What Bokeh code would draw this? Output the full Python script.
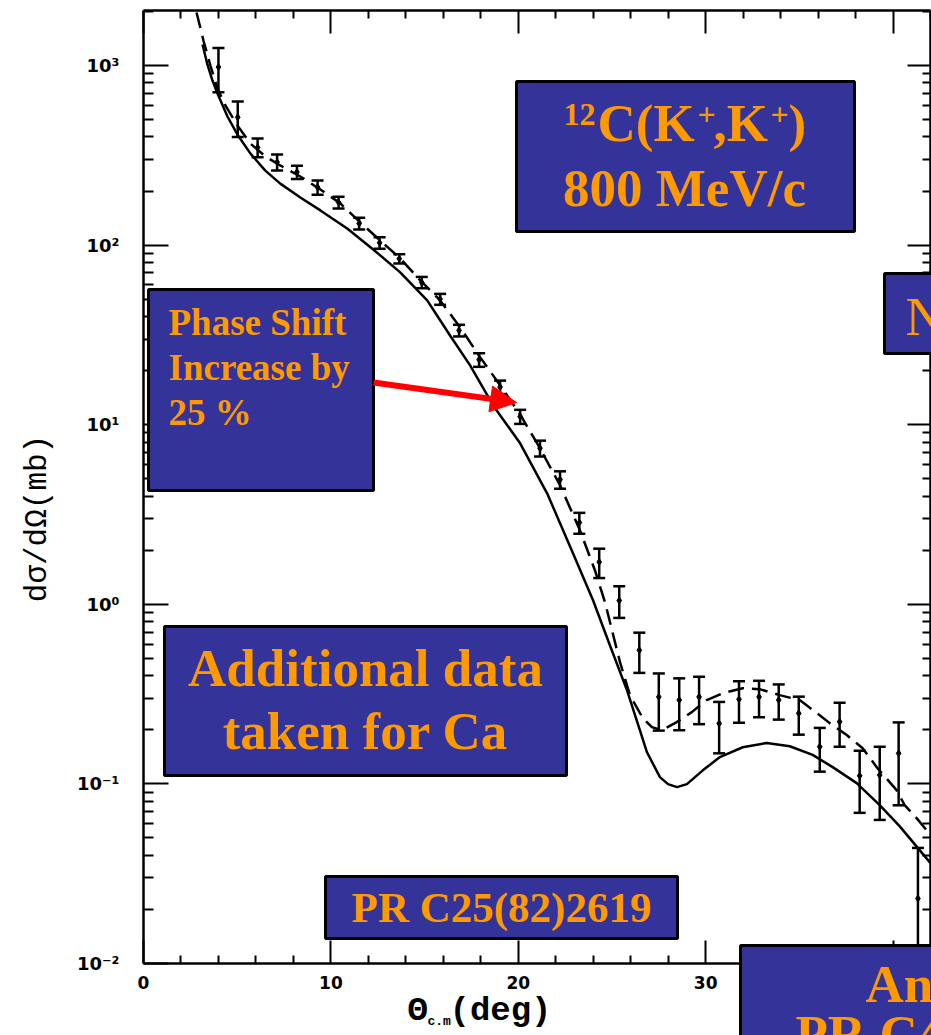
import math

from bokeh.embed import file_html
from bokeh.models import (Arrow, BoxAnnotation, ColumnDataSource, CustomJSTickFormatter,
                          CustomLabelingPolicy, FixedTicker, Label, LinearAxis, LogAxis,
                          NormalHead)
from bokeh.plotting import figure
from bokeh.resources import INLINE

# 12C(K+,K+) elastic scattering, 800 MeV/c: measured points (c.m. angle, mb)
theta_cm = [4.0, 5.03, 6.09, 7.13, 8.19, 9.29, 10.41, 11.51, 12.6, 13.65,
            14.85, 15.83, 16.84, 17.91, 19.03, 20.1, 21.16, 22.23, 23.26, 24.32,
            25.39, 26.46, 27.5, 28.59, 29.65, 30.72, 31.78, 32.85, 33.9, 34.97,
            36.09, 37.15, 38.22, 39.29, 40.3, 41.33]
dsigma = [980, 515, 350, 290, 255, 210, 173, 132, 103, 84,
          62, 50, 33.5, 23, 16.2, 11.1, 7.4, 4.95, 2.85, 1.72,
          1.05, 0.555, 0.305, 0.293, 0.305, 0.217, 0.296, 0.305, 0.293, 0.247,
          0.161, 0.222, 0.111, 0.112, 0.148, 0.023]
dsigma_err = [270, 115, 42, 30, 22, 19, 13, 10, 7.5, 5,
              4.5, 3.5, 2.5, 2.0, 1.4, 1.0, 0.75, 0.55, 0.38, 0.32,
              0.21, 0.14, 0.107, 0.094, 0.09, 0.069, 0.077, 0.07, 0.065, 0.059,
              0.044, 0.061, 0.042, 0.049, 0.072, 0.021]

# standard phase shifts (solid curve)
theta_std = [3.15, 3.41, 3.68, 3.95, 4.48, 5.01, 5.70, 6.50, 7.30, 8.37,
             9.44, 10.87, 12.26, 13.70, 15.14, 16.36, 17.43, 18.66, 20.10, 21.54,
             22.92, 23.99, 24.89, 25.80, 26.49, 26.87, 27.56, 27.99, 28.47, 29.00,
             29.85, 30.76, 31.98, 33.26, 34.49, 35.71, 36.78, 38.06, 39.29, 40.35,
             41.42, 42.0]
dsigma_std = [1309, 1013, 825, 698, 520, 413, 324, 260, 220, 184,
              156, 123.8, 94.6, 70.5, 49.2, 31.4, 21.4, 12.8, 7.88, 4.15,
              1.925, 1.054, 0.592, 0.333, 0.199, 0.150, 0.109, 0.0997, 0.096, 0.0997,
              0.119, 0.141, 0.160, 0.169, 0.162, 0.145, 0.124, 0.101, 0.0762, 0.0582,
              0.0428, 0.0362]

# phase shifts increased by 25 % (dashed curve)
theta_inc = [2.83, 3.20, 3.57, 3.95, 4.37, 5.01, 5.70, 6.50, 7.30, 8.37,
             9.44, 10.50, 11.57, 12.63, 13.70, 14.77, 15.83, 16.90, 17.97, 19.03,
             20.10, 21.16, 22.23, 23.29, 24.09, 24.63, 25.0, 25.43, 25.96, 26.65,
             27.13, 27.66, 28.46, 29.26, 30.06, 30.91, 31.98, 32.88, 33.95, 35.02,
             35.93, 36.62, 37.53, 38.38, 39.18, 40.19, 40.62, 41.26, 42.0]
dsigma_inc = [1972, 1377, 1000, 745, 599, 464, 368, 312, 277.6, 241,
              204, 170.7, 133.8, 106.2, 84.3, 63.6, 49.2, 34.8, 23.7, 16.6,
              11.4, 7.39, 4.60, 2.585, 1.548, 1.027, 0.718, 0.476, 0.312, 0.232,
              0.207, 0.199, 0.221, 0.251, 0.293, 0.320, 0.341, 0.337, 0.312, 0.293,
              0.248, 0.218, 0.187, 0.158, 0.122, 0.0923, 0.0762, 0.0645, 0.0519]

x_major = [0, 10, 20, 30, 40]
y_major = [1e-2, 1e-1, 1e0, 1e1, 1e2, 1e3]

W, H = 931, 1035
FL, FR, FT, FB = 143, 930, 10, 963          # edges of the boxed plot area on the page
X_LO, X_HI = 0.0, 42.0
Y_LO = 1e-2
Y_HI = 10 ** (3 + (65 - FT) / ((FB - 65) / 5.0))

BLUE = "#333399"
ORANGE = "#FF9900"
SERIF = "Liberation Serif"
MONO = "Liberation Mono"


def px_x(px):
    """page pixel column -> x data value"""
    return X_LO + (px - FL) * (X_HI - X_LO) / (FR - FL)


def px_y(py):
    """page pixel row -> y data value (log axis)"""
    lo, hi = math.log10(Y_LO), math.log10(Y_HI)
    return 10 ** (lo + (FB - py) * (hi - lo) / (FB - FT))


# the frame fills the whole canvas; the axes are pinned at the edges of the
# boxed area so that annotations can also spill over the axis margins
p = figure(width=W, height=H, x_range=(px_x(0), px_x(W)), y_range=(px_y(H), px_y(0)),
           y_axis_type="log", x_axis_location=None, y_axis_location=None,
           output_backend="svg", toolbar_location=None, min_border=0,
           background_fill_color="white", border_fill_color="white",
           outline_line_color=None)
p.grid.visible = False

x_ticker = FixedTicker(ticks=x_major,
                       minor_ticks=[v for v in range(0, 43, 2) if v % 10])
y_ticker = FixedTicker(ticks=y_major,
                       minor_ticks=[k * 10.0 ** n for n in range(-2, 4) for k in range(2, 10)
                                    if k * 10.0 ** n < Y_HI])

pow_fmt = CustomJSTickFormatter(code="""
const e = Math.round(Math.log10(tick));
const sup = {"-": "\\u207b", "0": "\\u2070", "1": "\\u00b9", "2": "\\u00b2", "3": "\\u00b3"};
return "10" + String(e).split("").map(c => sup[c]).join("");
""")
no_labels = CustomLabelingPolicy(code="return new Set();")


def style_axis(ax, major_len, minor_len):
    ax.axis_line_color = "black"
    ax.axis_line_width = 2.5
    ax.major_tick_in = major_len
    ax.major_tick_out = 0
    ax.minor_tick_in = minor_len
    ax.minor_tick_out = 0
    ax.major_tick_line_width = 2
    ax.minor_tick_line_width = 2
    ax.major_tick_line_color = "black"
    ax.minor_tick_line_color = "black"
    ax.major_label_text_color = "black"
    ax.major_label_text_font = "DejaVu Sans"
    ax.major_label_text_font_style = "bold"
    ax.major_label_text_font_size = "17px"


xb = LinearAxis(ticker=x_ticker, fixed_location=Y_LO, bounds=(X_LO, X_HI))
style_axis(xb, 23, 8)
xb.major_label_standoff = 12
p.add_layout(xb, "below")

xt = LinearAxis(ticker=x_ticker, fixed_location=Y_HI, bounds=(X_LO, X_HI),
                major_label_policy=no_labels)
style_axis(xt, 23, 8)
p.add_layout(xt, "above")

yl = LogAxis(ticker=y_ticker, formatter=pow_fmt, fixed_location=X_LO, bounds=(Y_LO, Y_HI))
style_axis(yl, 25, 10)
yl.major_label_text_font_size = "18px"
yl.major_label_standoff = 24
p.add_layout(yl, "left")

yr = LogAxis(ticker=y_ticker, fixed_location=X_HI, bounds=(Y_LO, Y_HI),
             major_label_policy=no_labels)
style_axis(yr, 23, 8)
p.add_layout(yr, "right")

# theory curves
p.line(theta_std, dsigma_std, line_color="black", line_width=2.5)
p.line(theta_inc, dsigma_inc, line_color="black", line_width=2.5, line_dash="16 8")

# data with error bars
lo = [y - e for y, e in zip(dsigma, dsigma_err)]
hi = [y + e for y, e in zip(dsigma, dsigma_err)]
src = ColumnDataSource(dict(x=theta_cm, y=dsigma, lo=lo, hi=hi))
p.segment("x", "lo", "x", "hi", source=src, line_color="black", line_width=2.5)
p.scatter("x", "hi", source=src, marker="dash", size=12, line_color="black", line_width=2.5)
p.scatter("x", "lo", source=src, marker="dash", size=12, line_color="black", line_width=2.5)
p.scatter("x", "y", source=src, marker="diamond", size=7, color="black")


def add_text(txt, px, baseline, size, color=ORANGE, font=SERIF, align="left",
             style="bold"):
    # anchor so that the glyph baseline lands on the given page row
    p.add_layout(Label(x=px_x(px), y=px_y(baseline - 0.36 * size), text=txt,
                       text_font=font, text_font_size=f"{size}px",
                       text_font_style=style, text_color=color, text_align=align,
                       text_baseline="alphabetic"))


def add_box(left, top, right, bottom):
    p.add_layout(BoxAnnotation(left=px_x(left), right=px_x(right), top=px_y(top),
                               bottom=px_y(bottom), fill_color=BLUE, fill_alpha=1.0,
                               line_color="black", line_width=3, line_alpha=1.0))


# axis titles
p.add_layout(Label(x=px_x(37), y=px_y(518), text="dσ/dΩ(mb)", angle=math.pi / 2,
                   text_font=MONO, text_font_size="31px", text_color="black",
                   text_align="center", text_baseline="middle"))
add_text("Θ", 407, 1023, 34, color="black", font=MONO)
add_text("c.m", 427, 1026, 13, color="black", font=MONO)
add_text("(deg)", 449, 1023, 34, color="black", font=MONO)

# reaction / beam momentum
add_box(516, 81, 854, 231)
add_text("12", 563, 126, 32)
add_text("C(K", 597, 142, 53)
add_text("+", 697, 126, 32)
add_text(",K", 713, 142, 53)
add_text("+", 770, 126, 32)
add_text(")", 788, 142, 53)
add_text("800 MeV/c", 684, 207, 53, align="center")

# box at the right edge
add_box(884, 273, 960, 353)
add_text("N", 905, 336, 54, style="normal")

# phase shift note and arrow
add_box(148, 289, 373, 490)
add_text("Phase Shift", 168, 335, 37)
add_text("Increase by", 168, 380, 37)
add_text("25 %", 168, 425, 37)
p.add_layout(Arrow(end=NormalHead(size=26, fill_color="red", line_color="red"),
                   x_start=px_x(373), y_start=px_y(382),
                   x_end=px_x(516), y_end=px_y(402),
                   line_color="red", line_width=6))

# Ca data note
add_box(164, 626, 566, 775)
add_text("Additional data", 365, 687, 53, align="center")
add_text("taken for Ca", 365, 750, 53, align="center")

# reference
add_box(325, 876, 677, 938)
add_text("PR C25(82)2619", 501, 922, 43, align="center")

# analysis box at the lower right
add_box(740, 945, 960, 1060)
add_text("Ana", 865, 1003, 53)
add_text("PR C45", 795, 1053, 53)

open("out.html", "w").write(file_html(p, INLINE))
